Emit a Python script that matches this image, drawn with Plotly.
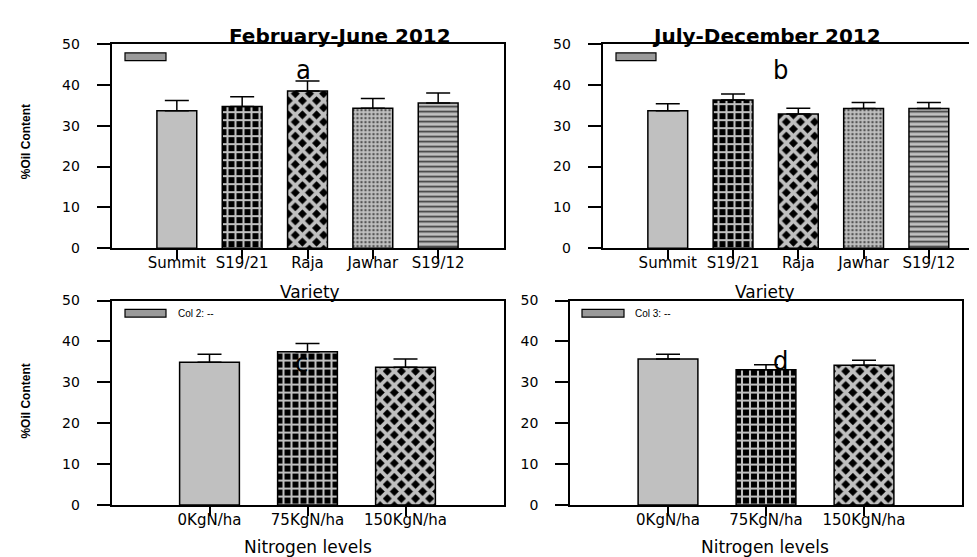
import plotly.graph_objects as go

W, H = 977, 557

varieties = ["Summit", "S19/21", "Raja", "Jawhar", "S19/12"]
feb_jun = [33.7, 34.7, 38.5, 34.3, 35.6]
feb_jun_err = [2.5, 2.4, 2.5, 2.4, 2.4]
jul_dec = [33.7, 36.3, 32.9, 34.2, 34.2]
jul_dec_err = [1.7, 1.5, 1.4, 1.5, 1.5]

nitrogen = ["0KgN/ha", "75KgN/ha", "150KgN/ha"]
n_col2 = [34.9, 37.5, 33.7]
n_col2_err = [2.0, 2.0, 2.0]
n_col3 = [35.7, 33.1, 34.2]
n_col3_err = [1.2, 1.2, 1.2]

y_ticks = [0, 10, 20, 30, 40, 50]

GRAY = "#c0c0c0"

def px(x):
    return x / W

def py(y):
    return 1 - y / H

# pattern styles per position
var_shape = ["", "+", "x", ".", "-"]
var_fg = [GRAY, GRAY, GRAY, "#555555", "#404040"]
var_bg = [GRAY, "#000000", "#000000", GRAY, GRAY]
var_size = [8, 8, 10, 4, 5]
var_sol = [0.3, 0.45, 0.6, 0.3, 0.35]

n_shape = ["", "+", "x"]
n_fg = [GRAY, GRAY, GRAY]
n_bg = [GRAY, "#000000", "#000000"]
n_size = [8, 8, 10]
n_sol = [0.3, 0.45, 0.6]


def make_bar(x, y, err, xa, ya, shape, fg, bg, size, sol):
    return go.Bar(
        x=x, y=y, xaxis=xa, yaxis=ya, width=0.61,
        marker=dict(
            color=GRAY,
            line=dict(color="black", width=1.5),
            pattern=dict(shape=shape, fgcolor=fg, bgcolor=bg, size=size,
                         solidity=sol, fillmode="replace"),
        ),
        error_y=dict(type="data", array=err, arrayminus=[0] * len(err),
                     symmetric=False, color="black", thickness=1.5, width=12),
        showlegend=False, hoverinfo="skip",
    )


fig = go.Figure()
fig.add_trace(make_bar(varieties, feb_jun, feb_jun_err, "x", "y",
                       var_shape, var_fg, var_bg, var_size, var_sol))
fig.add_trace(make_bar(varieties, jul_dec, jul_dec_err, "x2", "y2",
                       var_shape, var_fg, var_bg, var_size, var_sol))
fig.add_trace(make_bar(nitrogen, n_col2, n_col2_err, "x3", "y3",
                       n_shape, n_fg, n_bg, n_size, n_sol))
fig.add_trace(make_bar(nitrogen, n_col3, n_col3_err, "x4", "y4",
                       n_shape, n_fg, n_bg, n_size, n_sol))

xtickfont = dict(family="DejaVu Sans", size=15, color="black")
ytickfont = dict(family="DejaVu Sans", size=14, color="black")

def xaxis(domain, rng, anchor):
    return dict(domain=domain, range=rng, anchor=anchor, type="category",
                showline=True, linecolor="black", linewidth=1.5, mirror=True,
                ticks="outside", ticklen=9, tickwidth=1.5, tickcolor="black",
                ticklabelstandoff=-9,
                tickangle=0, tickfont=xtickfont, showgrid=False, zeroline=False,
                fixedrange=True)

def yaxis(domain, anchor, mirror=True):
    return dict(domain=domain, range=[0, 50], anchor=anchor,
                tickvals=y_ticks, ticktext=[str(v) for v in y_ticks],
                showline=True, linecolor="black", linewidth=1.5, mirror=mirror,
                ticks="outside", ticklen=13, tickwidth=1.5, tickcolor="black",
                ticklabelstandoff=14,
                tickfont=ytickfont, showgrid=False, zeroline=False,
                fixedrange=True)

top_dom = [py(239), py(29)]
bot_dom = [py(503.5), py(293)]

fig.update_layout(
    width=W, height=H, autosize=False,
    margin=dict(l=0, r=0, t=0, b=0),
    paper_bgcolor="white", plot_bgcolor="white",
    xaxis=xaxis([px(103.5), px(495.5)], [-1, 5], "y"),
    yaxis=yaxis(top_dom, "x"),
    xaxis2=xaxis([px(594.5), 1.0], [-1, 4.86], "y2"),
    yaxis2=yaxis(top_dom, "x2", mirror=False),
    xaxis3=xaxis([px(103.5), px(495.5)], [-1, 3], "y3"),
    yaxis3=yaxis(bot_dom, "x3"),
    xaxis4=xaxis([px(562), px(954)], [-1, 3], "y4"),
    yaxis4=yaxis(bot_dom, "x4"),
)

ann = []
def add_text(x, y, text, size, family="DejaVu Sans", bold=False, angle=0,
             xanchor="center", color="black"):
    ann.append(dict(x=px(x), y=py(y), xref="paper", yref="paper",
                    text=f"<b>{text}</b>" if bold else text, showarrow=False,
                    xanchor=xanchor, yanchor="middle", textangle=angle,
                    font=dict(family=family, size=size, color=color)))

# titles
add_text(332, 21, "February-June 2012", 20, family="DejaVu Sans", bold=True)
add_text(758, 21, "July-December 2012", 20, family="DejaVu Sans", bold=True)
# x titles
add_text(302, 284, "Variety", 17)
add_text(757, 284, "Variety", 17)
add_text(300, 547, "Nitrogen levels", 17)
add_text(757, 547, "Nitrogen levels", 17)
# y titles
add_text(18, 130, "%Oil Content", 12, family="Liberation Sans", bold=True, angle=-90)
add_text(18, 397, "%Oil Content", 12, family="Liberation Sans", bold=True, angle=-90)
# letters
letter_font = "DejaVu Sans Condensed, Liberation Sans Narrow, Liberation Sans"
add_text(295, 55, "a", 27, family=letter_font)
add_text(772, 55, "b", 27, family=letter_font)
add_text(293, 357, "c", 27, family=letter_font)
add_text(772, 355, "d", 27, family=letter_font)
# legend texts
add_text(168, 306, "Col 2: --", 10, family="Liberation Sans", xanchor="left")
add_text(625, 306, "Col 3: --", 10, family="Liberation Sans", xanchor="left")

fig.update_layout(annotations=ann)

shapes = []
for (x0, x1, y0, y1) in [(117, 158, 38, 46), (608, 648, 38, 46),
                         (117, 158, 302, 310), (574, 616, 302, 310)]:
    shapes.append(dict(type="rect", xref="paper", yref="paper",
                       x0=px(x0), x1=px(x1), y0=py(y1), y1=py(y0),
                       fillcolor="#9a9a9a", line=dict(color="black", width=1.2)))
fig.update_layout(shapes=shapes)

fig.write_html("out.html", config={"displayModeBar": False})
